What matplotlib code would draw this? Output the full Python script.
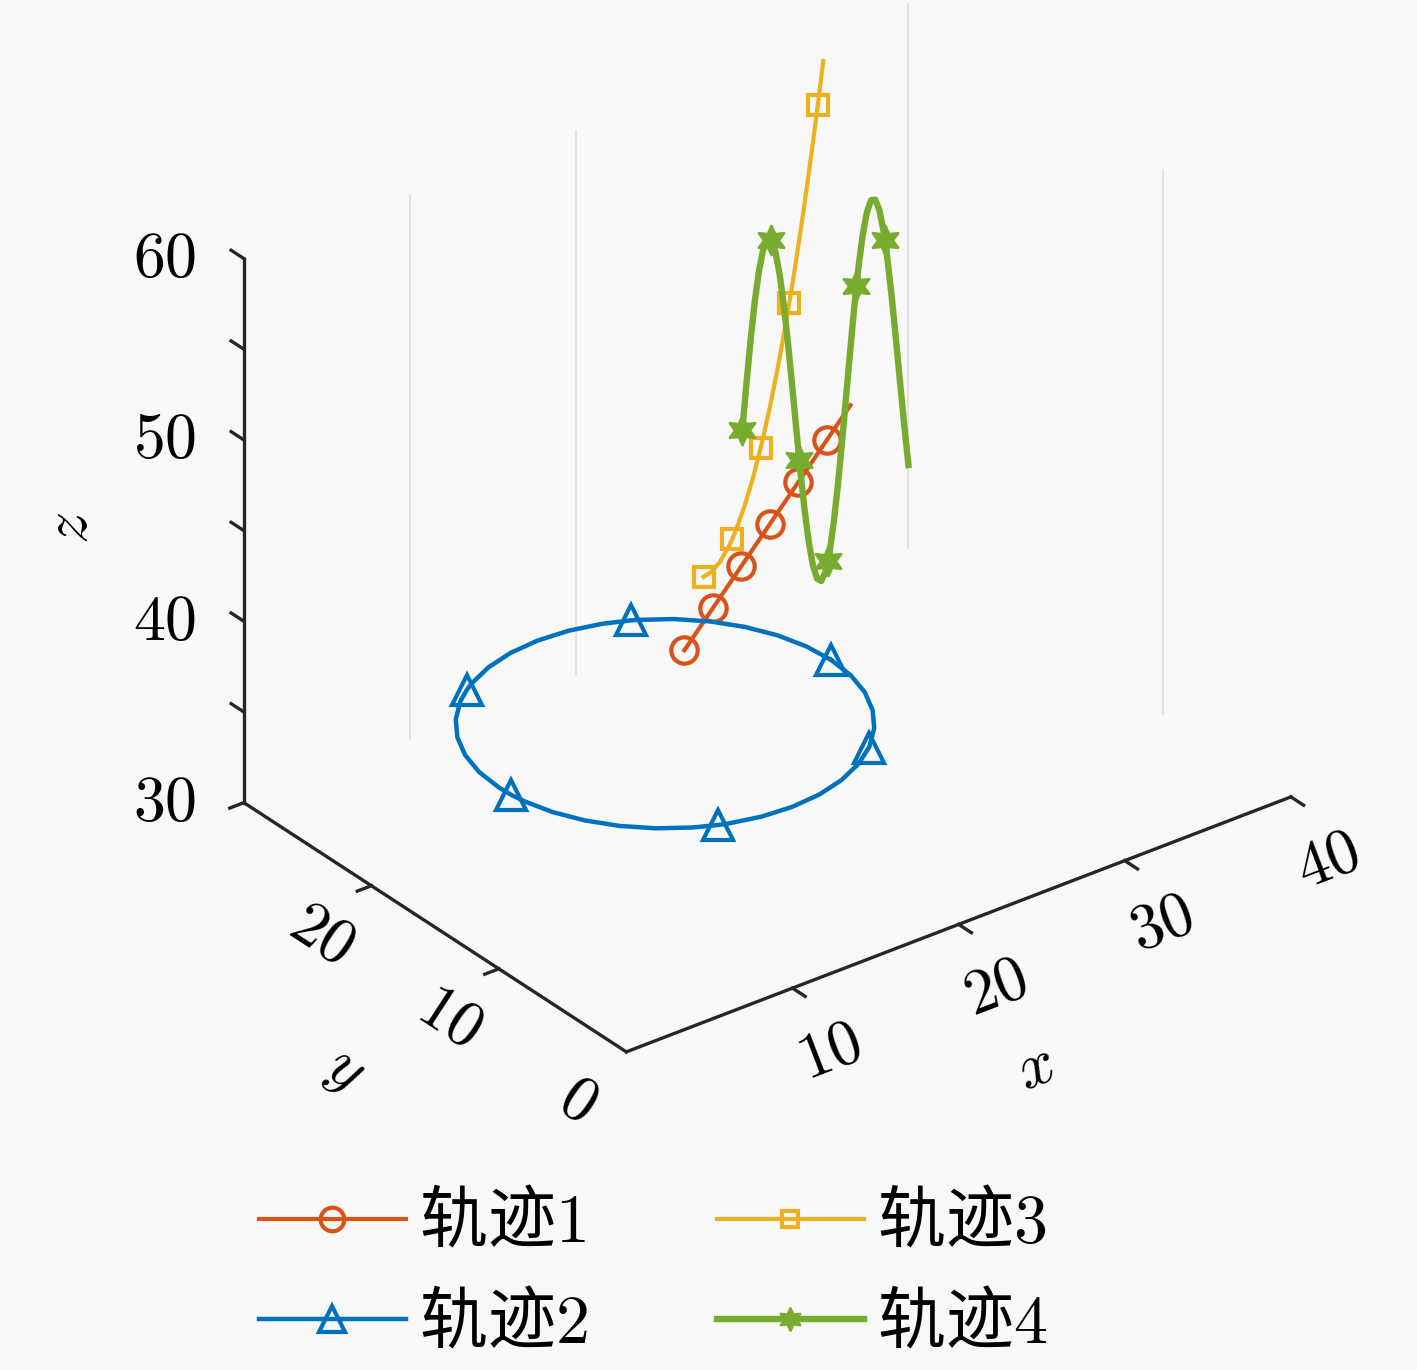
import math
import numpy as np
import matplotlib
matplotlib.use("Agg")
import matplotlib.pyplot as plt
from matplotlib.lines import Line2D

plt.rcParams["mathtext.fontset"] = "cm"
plt.rcParams["font.family"] = ["Noto Sans CJK SC", "DejaVu Sans"]

BG = "#f8f8f8"
C1, C2, C3, C4 = "#D95319", "#0072BD", "#EDB120", "#77AC30"
W, H = 1417, 1370

# ---- data ----
# 轨迹1: straight climb, y = 15
x1 = [15.00, 16.72, 18.43, 20.15, 21.87, 23.59, 25.00]
z1 = [40.00, 41.72, 43.43, 45.15, 46.87, 48.59, 50.00]
y1_level = 15
mark1 = [0, 1, 2, 3, 4, 5]

# 轨迹2: circle, z = 40
x2 = [20.00, 19.85, 19.40, 18.66, 17.66, 16.43, 15.00, 14.73, 13.42, 11.74,
      10.00, 8.26, 6.58, 5.00, 4.47, 3.57, 2.34, 1.34, 0.60, 0.15,
      0.00, 0.04, 0.15, 0.60, 1.34, 2.34, 3.57, 5.00, 6.12, 6.58,
      8.26, 10.00, 11.74, 13.42, 15.00, 16.29, 16.43, 17.66, 18.66, 19.40,
      19.85, 20.00]
y2 = [10.00, 11.74, 13.42, 15.00, 16.43, 17.66, 18.66, 18.81, 19.40, 19.85,
      20.00, 19.85, 19.40, 18.66, 18.33, 17.66, 16.43, 15.00, 13.42, 11.74,
      10.00, 9.06, 8.26, 6.58, 5.00, 3.57, 2.34, 1.34, 0.78, 0.60,
      0.15, 0.00, 0.15, 0.60, 1.34, 2.23, 2.34, 3.57, 5.00, 6.58,
      8.26, 10.00]
z2_level = 40
mark2 = [0, 7, 14, 21, 28, 35]

# 轨迹3: accelerating climb, y = 20
x3 = [20.00, 20.50, 21.00, 21.50, 21.72, 22.00, 22.50, 23.00, 23.43, 23.50,
      24.00, 24.50, 25.00, 25.15, 25.50, 26.00, 26.50, 26.87, 27.00, 27.20]
z3 = [40.00, 40.13, 40.50, 41.13, 41.47, 42.00, 43.13, 44.50, 45.90, 46.13,
      48.00, 50.13, 52.50, 53.27, 55.13, 58.00, 61.13, 63.59, 64.50, 65.92]
y3_level = 20
mark3 = [0, 4, 8, 13, 17]

# 轨迹4: oscillating, y = 30
x4 = [30.00, 30.25, 30.50, 30.75, 31.00, 31.25, 31.50, 31.72, 31.75, 32.00,
      32.25, 32.50, 32.75, 33.00, 33.25, 33.43, 33.50, 33.75, 34.00, 34.25,
      34.50, 34.75, 35.00, 35.15, 35.25, 35.50, 35.75, 36.00, 36.25, 36.50,
      36.75, 36.87, 37.00, 37.25, 37.50, 37.75, 38.00, 38.25, 38.50, 38.59,
      38.75, 39.00, 39.25, 39.50, 39.75, 40.00]
z4 = [40.00, 42.47, 44.79, 46.82, 48.41, 49.49, 49.97, 49.89, 49.84, 49.09,
      47.78, 45.98, 43.82, 41.41, 38.92, 37.12, 36.49, 34.28, 32.43, 31.05,
      30.23, 30.01, 30.41, 30.95, 31.41, 32.95, 34.92, 37.21, 39.67, 42.15,
      44.50, 45.53, 46.57, 48.23, 49.38, 49.95, 49.89, 49.23, 47.99, 47.44,
      46.25, 44.12, 41.74, 39.25, 36.81, 34.56]
y4_level = 30
mark4 = [0, 7, 15, 23, 31, 39]

labels = ["轨迹$1$", "轨迹$2$", "轨迹$3$", "轨迹$4$"]

xlim, ylim, zlim = (0, 40), (0, 30), (30, 60)
xticks = [10, 20, 30, 40]
yticks = [10, 20, 30]
zticks = [35, 40, 45, 50, 55, 60]
xticklabels = [10, 20, 30, 40]
yticklabels = [0, 10, 20]
zticklabels = [30, 40, 50, 60]
# faint vertical grid lines visible on the back walls
grid_back_x = [10, 20, 40]   # on y = 30
grid_side_y = [10]           # on x = 40

# ---- figure ----
fig = plt.figure(figsize=(W / 100, H / 100), dpi=100, facecolor=BG)
side = 0.9
ax = fig.add_axes([0.05, 0.05, side, side * W / H], projection="3d",
                  proj_type="ortho")
ax.view_init(elev=30, azim=-127.5)
ax.set_xlim(*xlim)
ax.set_ylim(*ylim)
ax.set_zlim(*zlim)
ax.set_box_aspect((40, 30, 30))
ax.set_axis_off()
ax.patch.set_alpha(0)

AX_C = "#262626"
AX_LW = 2.4


def seg(p, q, **kw):
    ax.plot([p[0], q[0]], [p[1], q[1]], [p[2], q[2]], **kw)


# grid
for gx in grid_back_x:
    seg((gx, ylim[1], zlim[0]), (gx, ylim[1], zlim[1]), color="#e2e2e2", lw=1.4)
for gy in grid_side_y:
    seg((xlim[1], gy, zlim[0]), (xlim[1], gy, zlim[1]), color="#e2e2e2", lw=1.4)

# axis lines and ticks
seg((0, 0, 30), (40, 0, 30), color=AX_C, lw=AX_LW)
seg((0, 0, 30), (0, 30, 30), color=AX_C, lw=AX_LW)
seg((0, 30, 30), (0, 30, 60), color=AX_C, lw=AX_LW)
for v in xticks:
    seg((v, 0, 30), (v, -1.0, 30), color=AX_C, lw=AX_LW)
for v in yticks:
    seg((0, v, 30), (-0.85, v, 30), color=AX_C, lw=AX_LW)
for v in zticks:
    seg((0, 30, v), (0, 31.0, v), color=AX_C, lw=AX_LW)

# trajectories
st1 = dict(color=C1, lw=3.0, marker="o", ms=19, mfc="none", mec=C1, mew=3.0)
st2 = dict(color=C2, lw=3.2, marker="^", ms=22, mfc="none", mec=C2, mew=3.0)
st3 = dict(color=C3, lw=3.0, marker="s", ms=15, mfc="none", mec=C3, mew=3.0)
st4 = dict(color=C4, lw=4.6, marker=(6, 1, 0), ms=22, mfc=C4, mec=C4, mew=1.5)

ax.plot(x1, z1, zs=y1_level, zdir="y", markevery=mark1, **st1)
ax.plot(x2, y2, zs=z2_level, zdir="z", markevery=mark2, **st2)
ax.plot(x3, z3, zs=y3_level, zdir="y", markevery=mark3, **st3)
ax.plot(x4, z4, zs=y4_level, zdir="y", markevery=mark4, **st4)

# legend markers are drawn a little differently sized than in the plot
leg_ms = [17, 19, 11, 17]
handles = [Line2D([], [], **{**st, "ms": m})
           for st, m in zip((st1, st2, st3, st4), leg_ms)]
fig.legend(handles, labels, ncol=2, loc="lower left",
           bbox_to_anchor=(0.183, 0.008), frameon=False, fontsize=49,
           handlelength=2.15, handletextpad=0.2, columnspacing=1.9,
           labelspacing=0.45, borderpad=0.0, borderaxespad=0.0)


# ---- place the 3D box so that its corners land where they are in the picture ----
def project(pts):
    pts = np.asarray(pts, float)
    hpts = np.column_stack([pts, np.ones(len(pts))]) @ np.asarray(ax.M).T
    xy = hpts[:, :2] / hpts[:, 3:4]
    return ax.transData.transform(xy)


corners = [(0, 0, 30), (40, 0, 30), (0, 30, 30), (0, 30, 60)]
target = np.array([(625, 1050), (1290, 800), (245, 805), (245, 255)], float)
target[:, 1] = H - target[:, 1]

for _ in range(3):
    fig.canvas.draw()
    p = project(corners)
    pm, qm = p.mean(0), target.mean(0)
    k = ((p - pm) * (target - qm)).sum() / ((p - pm) ** 2).sum()
    tr = qm - k * pm
    bb = ax.get_position(original=False)
    cx, cy = (bb.x0 + bb.x1) / 2 * W, (bb.y0 + bb.y1) / 2 * H
    s = min(bb.width * W, bb.height * H)
    s2 = k * s
    ncx, ncy = k * cx + tr[0], k * cy + tr[1]
    ax.set_position([(ncx - s2 / 2) / W, (ncy - s2 / 2) / H, s2 / W, s2 / H])
fig.canvas.draw()

# ---- tick and axis labels as flat text at projected positions ----
FS = 46
DIRS = {"x": (1, 0, 0), "y": (0, 1, 0), "z": (0, 0, 1)}


def label3d(pt, s, along=None):
    p = project([pt])[0]
    ang = 0.0
    if along is not None:
        q = project([np.add(pt, DIRS[along])])[0]
        ang = math.degrees(math.atan2(q[1] - p[1], q[0] - p[0]))
        ang = (ang + 180) % 180
        if ang > 90:
            ang -= 180
    fig.text(p[0] / W, p[1] / H, s, rotation=ang, fontsize=FS,
             ha="center", va="center")


for v in xticklabels:
    label3d((v - 2.3, -5.9, 30), f"${v}$", "x")
for v in yticklabels:
    label3d((-4.7, v - 2.3, 30), f"${v}$", "y")
for v in zticklabels:
    label3d((-3.0, 32.3, v), f"${v}$")
label3d((14.6, -13.0, 30), "$x$", "x")
label3d((-11.45, 7.0, 30), "$y$", "y")
label3d((-6.6, 35.1, 45.1), "$z$", "z")

fig.savefig("out.png", dpi=100, facecolor=BG)
